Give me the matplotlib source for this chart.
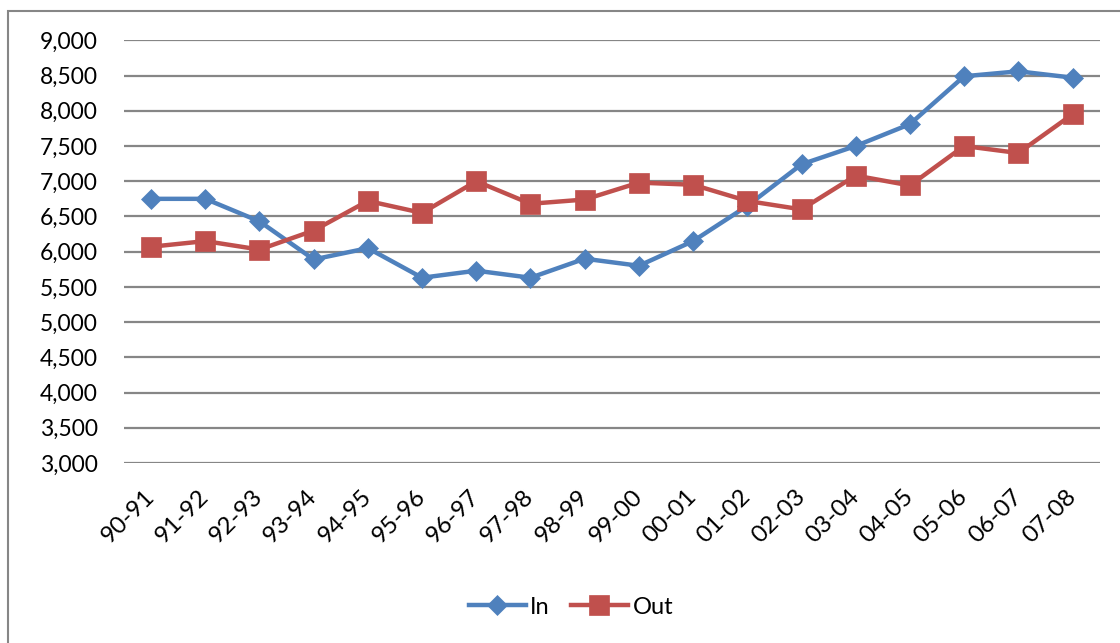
import matplotlib.pyplot as plt
from matplotlib.patches import Rectangle
from matplotlib.ticker import FuncFormatter

plt.rcParams['font.family'] = ['Lato', 'DejaVu Sans']

years = ['90-91', '91-92', '92-93', '93-94', '94-95', '95-96', '96-97', '97-98', '98-99',
         '99-00', '00-01', '01-02', '02-03', '03-04', '04-05', '05-06', '06-07', '07-08']
in_vals = [6750, 6750, 6430, 5890, 6050, 5630, 5730, 5630, 5900,
           5800, 6150, 6650, 7240, 7500, 7810, 8490, 8560, 8470]
out_vals = [6070, 6150, 6030, 6300, 6720, 6550, 7000, 6680, 6740,
            6980, 6950, 6720, 6600, 7080, 6940, 7500, 7400, 7950]

blue = '#4F81BD'
red = '#C0504D'

fig = plt.figure(figsize=(11.2, 6.43), dpi=100)
ax = fig.add_axes([0.1107, 0.2799, 0.8711, 0.6574])

x = range(len(years))
ax.plot(x, in_vals, color=blue, lw=3.2, marker='D', ms=10, mew=0.5, label='In')
ax.plot(x, out_vals, color=red, lw=3.2, marker='s', ms=14, mew=0.5, label='Out')

ax.set_xlim(-0.5, len(years) - 0.5)
ax.set_ylim(3000, 9000)
ax.set_yticks(range(3000, 9001, 500))
ax.yaxis.set_major_formatter(FuncFormatter(lambda v, p: f'{int(v):,}'))
ax.grid(axis='y', color='#868686', lw=1.6)
ax.set_axisbelow(True)
for s in ax.spines.values():
    s.set_visible(False)
ax.tick_params(axis='y', length=0, pad=19, labelsize=16.5)
ax.set_xticks(list(x))
ax.set_xticklabels(years, rotation=45, ha='right', va='center', rotation_mode='anchor')
ax.tick_params(axis='x', length=0, pad=22, labelsize=17.5)

fig.legend(loc='center', bbox_to_anchor=(571 / 1120, 1 - 607 / 643), ncol=2, frameon=False,
           fontsize=17, handlelength=2.4, columnspacing=0.9, handletextpad=0.2)

fig.patches.append(Rectangle((8 / 1120, -0.1), 1.2, 1 - 11 / 643 + 0.1, transform=fig.transFigure,
                             fill=False, edgecolor='#868686', lw=1.5))

fig.savefig('out.png', dpi=100)
